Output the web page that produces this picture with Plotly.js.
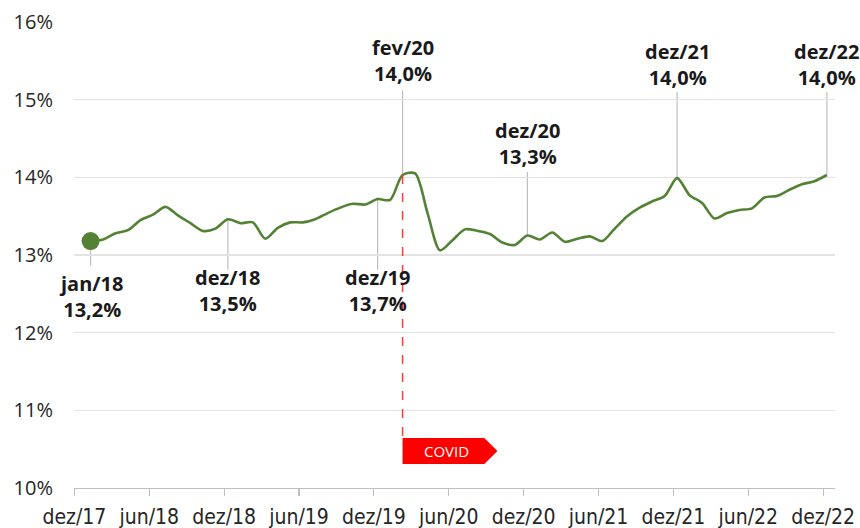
<!DOCTYPE html>
<html>
<head>
<meta charset="utf-8">
<script src="https://cdn.plot.ly/plotly-3.0.1.min.js"></script>
<style>html,body{margin:0;padding:0;background:#fff;}#chart{width:860px;height:528px;}</style>
</head>
<body>
<div id="chart"></div>
<script>
// Monthly data jan/18 .. dez/22 (%), index 1 = jan/18, 0 = dez/17
const months = ["jan/18","fev/18","mar/18","abr/18","mai/18","jun/18","jul/18","ago/18","set/18","out/18","nov/18","dez/18",
"jan/19","fev/19","mar/19","abr/19","mai/19","jun/19","jul/19","ago/19","set/19","out/19","nov/19","dez/19",
"jan/20","fev/20","mar/20","abr/20","mai/20","jun/20","jul/20","ago/20","set/20","out/20","nov/20","dez/20",
"jan/21","fev/21","mar/21","abr/21","mai/21","jun/21","jul/21","ago/21","set/21","out/21","nov/21","dez/21",
"jan/22","fev/22","mar/22","abr/22","mai/22","jun/22","jul/22","ago/22","set/22","out/22","nov/22","dez/22"];
const values = [13.18,13.20,13.28,13.32,13.45,13.52,13.62,13.51,13.41,13.31,13.34,13.46,
13.41,13.42,13.21,13.35,13.42,13.42,13.46,13.54,13.61,13.66,13.65,13.72,
13.71,14.03,14.05,13.54,13.06,13.19,13.33,13.31,13.27,13.16,13.13,13.25,
13.20,13.29,13.17,13.21,13.24,13.18,13.34,13.50,13.61,13.69,13.76,13.99,
13.77,13.67,13.47,13.54,13.58,13.60,13.74,13.76,13.84,13.91,13.95,14.03];
const tickLabels = ["dez/17","jun/18","dez/18","jun/19","dez/19","jun/20","dez/20","jun/21","dez/21","jun/22","dez/22"];
const yTickVals = [10,11,12,13,14,15,16];
const yTickText = ["10%","11%","12%","13%","14%","15%","16%"];
// Highlighted points: month label, label text, placement
const hlMonths = ["jan/18","dez/18","dez/19","fev/20","dez/20","dez/21","dez/22"];
const hlText = ["jan/18<br>13,2%","dez/18<br>13,5%","dez/19<br>13,7%","fev/20<br>14,0%","dez/20<br>13,3%","dez/21<br>14,0%","dez/22<br>14,0%"];
const hlLabelY = [12.46,12.54,12.54,15.51,14.44,15.45,15.45];
const hlLineEnd = [12.86,12.81,12.81,15.12,14.07,15.10,15.10];
const covidMonth = "fev/20";
const covidText = "COVID";

const xs = months.map((m,i)=>i+1);
const TICK_OFF = -0.3;
const tickVals = tickLabels.map((t,i)=>i*6+TICK_OFF);
const idx = m => months.indexOf(m);

const green = "#548235";
const traces = [{
  x: xs, y: values, type: "scatter", mode: "lines",
  line: {color: green, width: 2.6, shape: "spline", smoothing: 0.8},
  hoverinfo: "skip"
},{
  x: [xs[0]], y: [values[0]], type: "scatter", mode: "markers",
  marker: {color: green, size: 18}, hoverinfo: "skip"
}];

const shapes = [];
const annotations = [];
hlMonths.forEach((m,k)=>{
  const i = idx(m);
  shapes.push({type:"line", xref:"x", yref:"y", x0:xs[i], x1:xs[i], y0:values[i], y1:hlLineEnd[k],
    line:{color:"#bfbfbf", width:1.2}, layer:"below"});
  annotations.push({x:xs[i], y:hlLabelY[k], xref:"x", yref:"y", text:"<b>"+hlText[k]+"</b>", showarrow:false,
    font:{family:"Open Sans, sans-serif", size:20, color:"#1a1a1a"}, align:"center", xanchor:"center", yanchor:"middle"});
});
// COVID marker
const ci = idx(covidMonth), cx = xs[ci];
const yTop = 10.644, yBot = 10.309, yMid = 10.476;
shapes.push({type:"line", xref:"x", yref:"y", x0:cx, x1:cx, y0:values[ci], y1:yTop,
  line:{color:"#ff3b3b", width:1.5, dash:"dash"}});
shapes.push({type:"path", xref:"x", yref:"y",
  path:`M ${cx},${yTop} L ${cx+6.55},${yTop} L ${cx+7.6},${yMid} L ${cx+6.55},${yBot} L ${cx},${yBot} Z`,
  fillcolor:"#ff0000", line:{width:0}});
annotations.push({x:cx+3.5, y:yMid, xref:"x", yref:"y", text:covidText, showarrow:false,
  font:{family:"Open Sans, sans-serif", size:15, color:"#ffffff"}, xanchor:"center", yanchor:"middle"});

const layout = {
  width: 860, height: 528,
  margin: {l:74, r:25, t:22, b:40, pad:0},
  paper_bgcolor: "#ffffff", plot_bgcolor: "#ffffff",
  showlegend: false,
  xaxis: {
    range: [-0.33, 60.65], tickmode: "array", tickvals: tickVals, ticktext: tickLabels,
    showgrid: false, zeroline: false, showline: true, linecolor: "#bfbfbf", linewidth: 1.2,
    ticks: "outside", ticklen: 7, tickcolor: "#bfbfbf", tickwidth: 1.2,
    tickfont: {family: "DejaVu Sans Condensed, DejaVu Sans, sans-serif", size: 21, color: "#262626"},
    ticklabelstandoff: 3, fixedrange: true
  },
  xaxis2: {
    overlaying: "x", range: [-0.33, 60.65], tickmode: "array", tickvals: tickVals,
    showticklabels: false, showgrid: false, zeroline: false, showline: false,
    ticks: "inside", ticklen: 7, tickcolor: "#bfbfbf", tickwidth: 1.2, side: "bottom"
  },
  yaxis: {
    range: [10, 16], tickmode: "array", tickvals: yTickVals, ticktext: yTickText,
    showgrid: true, gridcolor: "#e3e3e3", gridwidth: 1.2, zeroline: false, showline: false,
    ticks: "", tickfont: {family: "Open Sans, sans-serif", size: 20, color: "#262626"},
    ticklabelstandoff: 20, fixedrange: true
  },
  shapes: shapes, annotations: annotations
};
Plotly.newPlot("chart", traces, layout, {displayModeBar: false, staticPlot: true});
</script>
</body>
</html>
